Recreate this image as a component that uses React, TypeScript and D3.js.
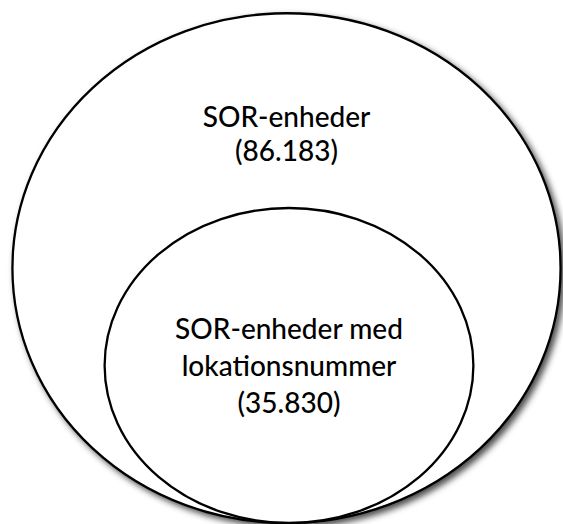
import React from "react";
import { scaleSqrt } from "d3";

const width = 563;
const height = 524;

// sets, outer first
const setNames = ["SOR-enheder", "SOR-enheder med lokationsnummer"];
const setCounts = [86183, 35830];
const labelLines = [
  ["SOR-enheder", "(86.183)"],
  ["SOR-enheder med", "lokationsnummer", "(35.830)"],
];

// layout (not data)
const bottomY = 523;
const centersX = [286.5, 289];
const aspects = [1.037, 1.082]; // rx / ry stretch
const textTop = [127, 339];
const lineGap = [34, 37];

const App = () => {
  // ellipse area ~ count
  const rScale = scaleSqrt().domain([0, setCounts[0]]).range([0, 264.3]);

  const shapes = setCounts.map((v, i) => {
    const r = rScale(v);
    const rx = r * aspects[i];
    const ry = r / aspects[i];
    return { name: setNames[i], cx: centersX[i], cy: bottomY - ry, rx, ry };
  });

  return (
    <svg
      width={width}
      height={height}
      style={{ position: "absolute", left: 0, top: 0 }}
      fontFamily="Lato, 'Open Sans', sans-serif"
    >
      <defs>
        <filter id="shadow" x="-10%" y="-10%" width="130%" height="130%">
          <feDropShadow dx="3.5" dy="3.5" stdDeviation="3" floodColor="#000" floodOpacity="0.7" />
        </filter>
      </defs>
      <rect width={width} height={height} fill="white" />

      {shapes.map((s, i) => (
        <ellipse
          key={s.name}
          cx={s.cx}
          cy={s.cy}
          rx={s.rx}
          ry={s.ry}
          fill="white"
          stroke="black"
          strokeWidth={2.3}
          filter={i === 0 ? "url(#shadow)" : undefined}
        />
      ))}

      {labelLines.map((lines, i) => (
        <text key={i} textAnchor="middle" fontSize="28" fill="#000" fontWeight={500}>
          {lines.map((line, j) => (
            <tspan key={j} x={shapes[i].cx} y={textTop[i] + j * lineGap[i]}>
              {line}
            </tspan>
          ))}
        </text>
      ))}
    </svg>
  );
};

export default App;
